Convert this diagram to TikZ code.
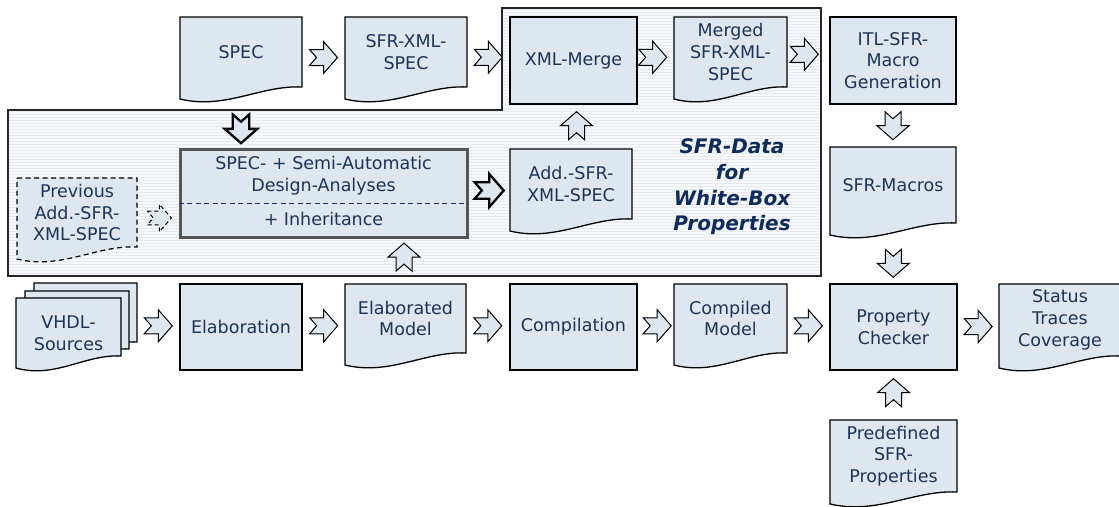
\documentclass[tikz,border=0pt]{standalone}
\usepackage{fontspec}
\setmainfont{DejaVu Sans}
\usetikzlibrary{calc}
\definecolor{boxfill}{HTML}{DEE6EF}
\definecolor{txtcol}{HTML}{1B3558}
\definecolor{titlecol}{HTML}{0F2B5B}
\definecolor{framefill}{HTML}{F6F8FB}
\definecolor{stripe}{HTML}{E6EBF1}
\definecolor{semiborder}{HTML}{555555}
\tikzset{
 lbl/.style={text=txtcol, font=\fontsize{17.5}{21.7}\selectfont, align=center, inner sep=0pt},
 rbox/.style={lbl, draw=black, line width=1.2pt, fill=boxfill},
 docline/.style={draw=black, line width=1.3pt, fill=boxfill},
 prevline/.style={draw=black, line width=1.2pt, fill=boxfill, dash pattern=on 5pt off 3.5pt},
 arrowline/.style={draw=black, line width=1pt, fill=boxfill, line join=miter},
 boldarrow/.style={draw=black, line width=2.3pt, fill=boxfill, line join=miter},
 dasharrow/.style={draw=black, line width=1pt, fill=boxfill, dash pattern=on 4pt off 3pt},
 titletext/.style={text=titlecol, font=\fontsize{20}{25.7}\selectfont\bfseries\itshape, align=center, inner sep=0pt},
 barrow/.pic={\path[#1] (-14,-8) -- (0,-8) -- (0,-16) -- (14,0) -- (0,16) -- (0,8) -- (-14,8) -- (-7,0) -- cycle;},
}
% doc shape: [style]{name}{xL}{yT}{xR}{yB}{text}
\newcommand{\mydoc}[7][docline]{%
 \path[#1] (#3,#4) -- (#5,#4) -- (#5,#6) .. controls ({#5-0.34*(#5-#3)},{#6-2}) and ({#3+0.37*(#5-#3)},{#6+23}) .. (#3,{#6+12}) -- cycle;
 \node[lbl, minimum width={(#5-#3)*1pt}, minimum height={(#6-#4)*1pt}] (#2) at ({(#3+#5)/2},{(#4+#6)/2}) {#7};}
\newcommand{\mybox}[7][rbox]{%
 \node[#1, minimum width={(#5-#3)*1pt}, minimum height={(#6-#4)*1pt}] (#2) at ({(#3+#5)/2},{(#4+#6)/2}) {#7};}
\begin{document}
\begin{tikzpicture}[x=1pt,y=-1pt]
\useasboundingbox (0,0) rectangle (1119,506);
% frame
\path[fill=framefill] (8,110) -- (502,110) -- (502,8) -- (821,8) -- (821,276) -- (8,276) -- cycle;
\begin{scope}
\clip (8,110) -- (502,110) -- (502,8) -- (821,8) -- (821,276) -- (8,276) -- cycle;
\foreach \yy in {9,12,...,276} \draw[stripe, line width=1pt] (8,\yy) -- (821,\yy);
\end{scope}
\draw[black!85, line width=1.5pt] (8,110) -- (502,110) -- (502,8) -- (821,8) -- (821,276) -- (8,276) -- cycle;
% top row
\mydoc{spec}{180}{17}{302}{87}{SPEC}
\mydoc{sfrxml}{345}{17}{467}{87}{SFR-XML-\\SPEC}
\mybox{xmlmerge}{510}{17}{637}{104}{XML-Merge}
\mydoc{merged}{674}{17}{787}{87}{Merged\\SFR-XML-\\SPEC}
\mybox{itl}{830}{17}{956}{104}{ITL-SFR-\\Macro\\Generation}
\mydoc{macros}{830}{147}{956}{223}{SFR-Macros}
% middle
\mydoc[prevline]{prev}{17}{178}{137}{247}{Previous\\Add.-SFR-\\XML-SPEC}
\mydoc{add}{510}{149}{632}{219}{Add.-SFR-\\XML-SPEC}
\node[draw=semiborder, line width=3pt, fill=boxfill, minimum width=287pt, minimum height=88pt, inner sep=0pt] (semi) at (323.5,193) {};
\coordinate (sepy) at (0,203);
\draw[txtcol, line width=0.9pt, dash pattern=on 5pt off 3.5pt] (semi.west |- sepy) -- (semi.east |- sepy);
\node[lbl] (semitop) at (323.5,176) {SPEC- + Semi-Automatic\\Design-Analyses};
\node[lbl] (semibot) at (323.5,219) {+ Inheritance};
\node[titletext] (title) at (732,187) {SFR-Data\\for\\White-Box\\Properties};
% bottom row
\mydoc{vhdlc}{34}{283}{137}{342}{}
\mydoc{vhdlb}{25}{291}{129}{349}{}
\mydoc{vhdl}{16}{298}{121}{356}{}
\node[lbl] (vhdltext) at ([yshift=-6.5pt]vhdl.center) {VHDL-\\Sources};
\mybox{elab}{180}{284}{302}{370}{Elaboration}
\mydoc{elabmodel}{345}{284}{466}{353}{Elaborated\\Model}
\mybox{compilation}{510}{284}{637}{370}{Compilation}
\mydoc{compiled}{674}{284}{787}{353}{Compiled\\Model}
\mybox{pc}{830}{284}{957}{370}{Property\\Checker}
\mydoc{status}{999}{284}{1121}{356}{Status\\Traces\\Coverage}
\mydoc{predef}{830}{420}{957}{492}{Predefined\\SFR-\\Properties}
% block arrows
\pic at ($(spec.east)!.5!(sfrxml.west)+(0,5.5)$) {barrow=arrowline};
\pic at ($(sfrxml.east)!.5!(xmlmerge.west)+(0,1)$) {barrow=arrowline};
\pic at ($(xmlmerge.east)!.5!(merged.west)+(-3,1)$) {barrow=arrowline};
\pic at ($(merged.east)!.5!(itl.west)+(-4,-2)$) {barrow=arrowline};
\pic[rotate=-90] at ($(itl.south)!.5!(macros.north)$) {barrow=arrowline};
\pic[rotate=-90] at ($(macros.south)!.5!(pc.north)+(0,10)$) {barrow=arrowline};
\pic[rotate=90] at ($(pc.south)!.5!(predef.north)+(0,-2.5)$) {barrow=arrowline};
\pic[rotate=-90, scale=1.02] at ($(spec.south)!.5!(spec.south |- semi.north)+(0,11.5)$) {barrow=boldarrow};
\pic[scale=0.86] at ($(prev.east)!.5!(prev.east -| semi.west)+(1.5,5.5)$) {barrow=dasharrow};
\pic[scale=1.04] at ($(semi.east)!.5!(semi.east -| add.west)+(0,-2.5)$) {barrow=boldarrow};
\pic[rotate=90] at ($(add.north)!.5!(add.north |- xmlmerge.south)+(5.5,-1)$) {barrow=arrowline};
\pic[rotate=90] at ($(elabmodel.north |- semi.south)!.5!(elabmodel.north)+(-1.5,-4)$) {barrow=arrowline};
\pic at ($(vhdlc.east)!.5!(elab.west)+(0,6)$) {barrow=arrowline};
\pic at ($(elab.east)!.5!(elabmodel.west)+(0,3)$) {barrow=arrowline};
\pic at ($(elabmodel.east)!.5!(compilation.west)+(0,3)$) {barrow=arrowline};
\pic at ($(compilation.east)!.5!(compiled.west)+(1.5,3)$) {barrow=arrowline};
\pic at ($(compiled.east)!.5!(pc.west)+(0,3)$) {barrow=arrowline};
\pic at ($(pc.east)!.5!(status.west)+(0,3)$) {barrow=arrowline};
\end{tikzpicture}
\end{document}
